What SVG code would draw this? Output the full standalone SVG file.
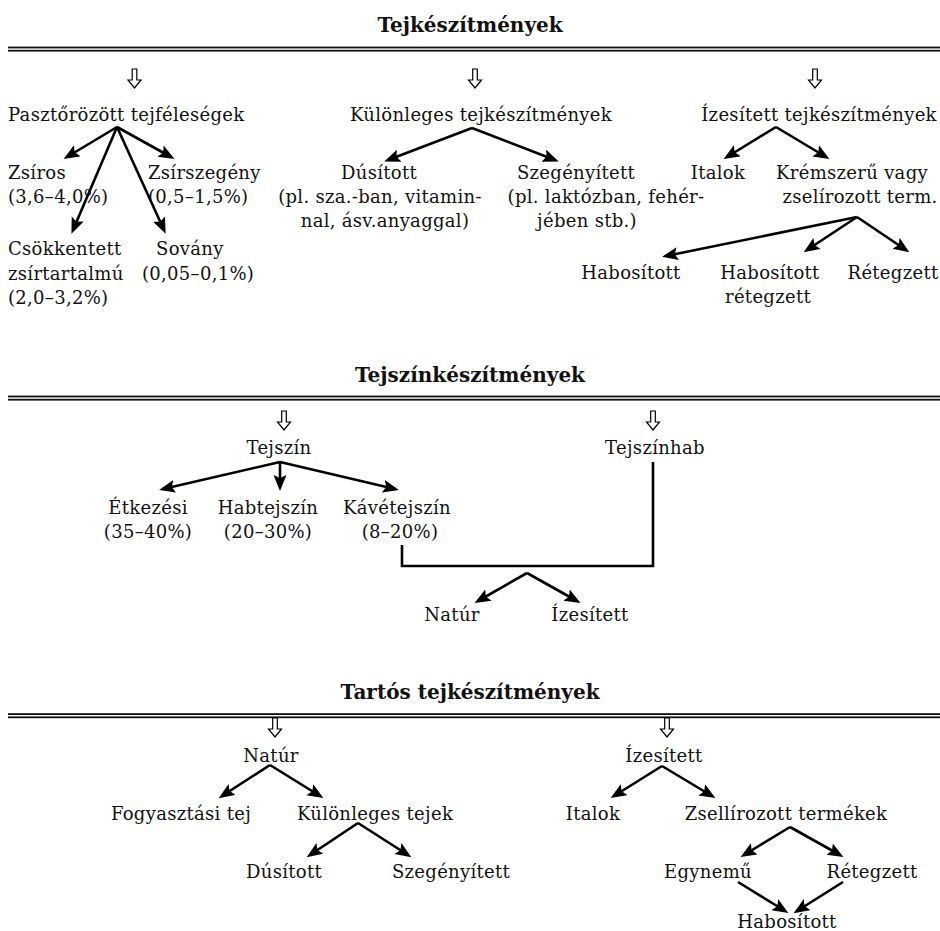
<svg xmlns="http://www.w3.org/2000/svg" xmlns:xlink="http://www.w3.org/1999/xlink" width="940" height="931" viewBox="0 0 940 931">
<style>
  text { font-family: "DejaVu Serif", "Liberation Serif", serif; font-size: 18px; letter-spacing: 0.3px; fill: #111; }
  .t { font-weight: bold; font-size: 20px; letter-spacing: 0; text-anchor: middle; }
  .m { text-anchor: middle; }
  .c { fill: none; stroke: #000; stroke-width: 2.6; marker-end: url(#ah); }
  .p { fill: none; stroke: #000; stroke-width: 2.6; }
  .dl { fill: #111; }
  .oa { fill: #fff; stroke: #000; stroke-width: 1.2; stroke-linejoin: miter; }
</style>
<defs>
  <marker id="ah" markerUnits="userSpaceOnUse" markerWidth="17" markerHeight="14" refX="12" refY="6.5" orient="auto">
    <path d="M0,0 L16,6.5 L0,13 L3,6.5 z" fill="#000"/>
  </marker>
  <path id="oa" class="oa" d="M-2.3,0 L2.3,0 L2.3,11 L6.5,11 L0,19 L-6.5,11 L-2.3,11 Z"/>
</defs>
<rect width="940" height="931" fill="#fff"/>

<!-- Section 1 -->
<g id="title1"><text class="t" x="470" y="32">Tejkészítmények</text>
  <rect class="dl" x="8" y="46.6" width="932" height="1.8"/><rect class="dl" x="8" y="49.8" width="932" height="1.8"/></g>
<g id="open-arrows-1"><use xlink:href="#oa" x="134.5" y="69"/><use xlink:href="#oa" x="475" y="69"/><use xlink:href="#oa" x="815" y="69"/></g>

<g id="pasztorozott"><text x="8" y="121">Pasztőrözött tejféleségek</text></g>
<g id="zsiros"><text x="8" y="179">Zsíros</text><text x="8" y="203">(3,6–4,0%)</text></g>
<g id="csokkentett"><text x="8" y="255">Csökkentett</text><text x="8" y="280">zsírtartalmú</text><text x="8" y="304">(2,0–3,2%)</text></g>
<g id="zsirszegeny"><text x="148" y="179">Zsírszegény</text><text x="148" y="203">(0,5–1,5%)</text></g>
<g id="sovany"><text x="156" y="255">Sovány</text><text x="142" y="280">(0,05–0,1%)</text></g>

<g id="kulonleges"><text class="m" x="481" y="121">Különleges tejkészítmények</text></g>
<g id="dusitott"><text class="m" x="379" y="179">Dúsított</text><text class="m" x="380" y="203">(pl. sza.-ban, vitamin-</text><text class="m" x="385" y="227">nal, ásv.anyaggal)</text></g>
<g id="szegenyitett"><text class="m" x="576" y="179">Szegényített</text><text class="m" x="606" y="203">(pl. laktózban, fehér-</text><text class="m" x="587" y="227">jében stb.)</text></g>

<g id="izesitett"><text class="m" x="819" y="121">Ízesített tejkészítmények</text></g>
<g id="italok1"><text class="m" x="718" y="179">Italok</text></g>
<g id="kremszeru"><text class="m" x="852" y="179">Krémszerű vagy</text><text class="m" x="860" y="203">zselírozott term.</text></g>
<g id="habositott1"><text class="m" x="631" y="279">Habosított</text></g>
<g id="habositott-retegzett"><text class="m" x="770" y="279">Habosított</text><text class="m" x="768" y="303">rétegzett</text></g>
<g id="retegzett1"><text class="m" x="893" y="279">Rétegzett</text></g>

<!-- Section 2 -->
<g id="title2"><text class="t" x="470" y="382">Tejszínkészítmények</text>
  <rect class="dl" x="8" y="395.6" width="932" height="1.8"/><rect class="dl" x="8" y="398.8" width="932" height="1.8"/></g>
<g id="open-arrows-2"><use xlink:href="#oa" x="284" y="411"/><use xlink:href="#oa" x="653" y="411"/></g>
<g id="tejszin"><text class="m" x="279" y="454">Tejszín</text></g>
<g id="etkezesi"><text class="m" x="148" y="514">Étkezési</text><text class="m" x="148" y="538">(35–40%)</text></g>
<g id="habtejszin"><text class="m" x="268" y="514">Habtejszín</text><text class="m" x="268" y="538">(20–30%)</text></g>
<g id="kavetejszin"><text class="m" x="397" y="514">Kávétejszín</text><text class="m" x="400" y="538">(8–20%)</text></g>
<g id="tejszinhab"><text class="m" x="655" y="454">Tejszínhab</text></g>
<g id="natur2"><text class="m" x="452" y="621">Natúr</text></g>
<g id="izesitett2"><text class="m" x="590" y="621">Ízesített</text></g>

<!-- Section 3 -->
<g id="title3"><text class="t" x="470" y="699">Tartós tejkészítmények</text>
  <rect class="dl" x="8" y="713.2" width="932" height="1.8"/><rect class="dl" x="8" y="716.4" width="932" height="1.8"/></g>
<g id="open-arrows-3"><use xlink:href="#oa" x="275" y="718"/><use xlink:href="#oa" x="667" y="718"/></g>
<g id="natur3"><text class="m" x="271" y="762">Natúr</text></g>
<g id="fogyasztasi"><text class="m" x="181" y="820">Fogyasztási tej</text></g>
<g id="kulonleges-tejek"><text class="m" x="375" y="820">Különleges tejek</text></g>
<g id="dusitott3"><text class="m" x="284" y="878">Dúsított</text></g>
<g id="szegenyitett3"><text class="m" x="451" y="878">Szegényített</text></g>
<g id="izesitett3"><text class="m" x="664" y="762">Ízesített</text></g>
<g id="italok3"><text class="m" x="593" y="820">Italok</text></g>
<g id="zsellirozott"><text class="m" x="786" y="820">Zsellírozott termékek</text></g>
<g id="egynemu"><text class="m" x="708" y="878">Egynemű</text></g>
<g id="retegzett3"><text class="m" x="872" y="878">Rétegzett</text></g>
<g id="habositott3"><text class="m" x="787" y="928">Habosított</text></g>

<g id="connectors">
  <line class="c" x1="117" y1="127" x2="67" y2="157"/>
  <line class="c" x1="117" y1="127" x2="73" y2="230"/>
  <line class="c" x1="117" y1="127" x2="171" y2="157"/>
  <line class="c" x1="117" y1="127" x2="164" y2="230"/>
  <line class="c" x1="472" y1="128" x2="388" y2="160"/>
  <line class="c" x1="472" y1="128" x2="555" y2="160"/>
  <line class="c" x1="776" y1="127" x2="727" y2="157"/>
  <line class="c" x1="776" y1="127" x2="826" y2="157"/>
  <line class="c" x1="857" y1="217" x2="666" y2="256"/>
  <line class="c" x1="857" y1="217" x2="807" y2="250"/>
  <line class="c" x1="857" y1="217" x2="906" y2="250"/>

  <line class="c" x1="280" y1="462" x2="163" y2="489"/>
  <line class="c" x1="280" y1="462" x2="280" y2="487"/>
  <line class="c" x1="280" y1="462" x2="395" y2="489"/>
  <polyline class="p" points="402,545 402,566 653,566 653,462"/>
  <line class="c" x1="527" y1="573" x2="478" y2="601"/>
  <line class="c" x1="527" y1="573" x2="577" y2="601"/>

  <line class="c" x1="270" y1="765" x2="222" y2="796"/>
  <line class="c" x1="270" y1="765" x2="320" y2="796"/>
  <line class="c" x1="358" y1="823" x2="310" y2="855"/>
  <line class="c" x1="358" y1="823" x2="408" y2="855"/>
  <line class="c" x1="662" y1="766" x2="614" y2="796"/>
  <line class="c" x1="662" y1="766" x2="712" y2="796"/>
  <line class="c" x1="790" y1="827" x2="744" y2="855"/>
  <line class="c" x1="790" y1="827" x2="840" y2="855"/>
  <line class="c" x1="738" y1="882" x2="785" y2="911"/>
  <line class="c" x1="843" y1="882" x2="797" y2="911"/>
</g>
</svg>
